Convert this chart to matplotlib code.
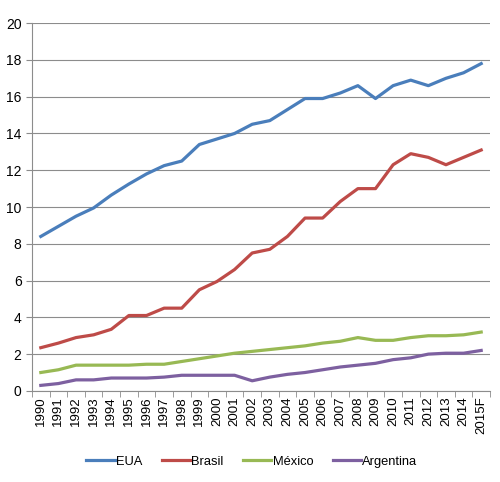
import matplotlib.pyplot as plt
import numpy as np

years = ['1990', '1991', '1992', '1993', '1994', '1995', '1996', '1997', '1998',
         '1999', '2000', '2001', '2002', '2003', '2004', '2005', '2006', '2007',
         '2008', '2009', '2010', '2011', '2012', '2013', '2014', '2015F']

eua = [8.4, 8.95, 9.5, 9.95, 10.65, 11.25, 11.8, 12.25, 12.5, 13.4, 13.7, 14.0, 14.5,
       14.7, 15.3, 15.9, 15.9, 16.2, 16.6, 15.9, 16.6, 16.9, 16.6, 17.0, 17.3, 17.8]
brasil = [2.35, 2.6, 2.9, 3.05, 3.35, 4.1, 4.1, 4.5, 4.5, 5.5, 5.95, 6.6, 7.5,
          7.7, 8.4, 9.4, 9.4, 10.3, 11.0, 11.0, 12.3, 12.9, 12.7, 12.3, 12.7, 13.1]
mexico = [1.0, 1.15, 1.4, 1.4, 1.4, 1.4, 1.45, 1.45, 1.6, 1.75, 1.9, 2.05, 2.15,
          2.25, 2.35, 2.45, 2.6, 2.7, 2.9, 2.75, 2.75, 2.9, 3.0, 3.0, 3.05, 3.2]
argentina = [0.3, 0.4, 0.6, 0.6, 0.7, 0.7, 0.7, 0.75, 0.85, 0.85, 0.85, 0.85, 0.55,
             0.75, 0.9, 1.0, 1.15, 1.3, 1.4, 1.5, 1.7, 1.8, 2.0, 2.05, 2.05, 2.2]

plt.rcParams['font.family'] = ['Liberation Sans', 'DejaVu Sans']

fig = plt.figure(figsize=(5, 4.82), dpi=100)
ax = fig.add_axes([0.064, 0.189, 0.916, 0.763])

x = np.arange(len(years))
ax.plot(x, eua, color='#4A7EBB', lw=2.3, label='EUA')
ax.plot(x, brasil, color='#BE4B48', lw=2.3, label='Brasil')
ax.plot(x, mexico, color='#98B954', lw=2.3, label='México')
ax.plot(x, argentina, color='#7D60A0', lw=2.3, label='Argentina')

ax.set_xlim(-0.5, len(years) - 0.5)
ax.set_ylim(0, 20)
ax.set_yticks(range(0, 21, 2))
ax.grid(axis='y', color='#8c8c8c', lw=0.8)
ax.set_axisbelow(True)

ax.set_xticks(x)
ax.set_xticklabels(years, rotation=90, fontsize=9.5)
ax.set_xticks(np.arange(-0.5, len(years)), minor=True)
ax.tick_params(axis='x', which='major', length=0, pad=4)
ax.tick_params(axis='x', which='minor', length=4, color='#8c8c8c')
ax.tick_params(axis='y', length=4, color='#8c8c8c', labelsize=10)

for s in ['top', 'right']:
    ax.spines[s].set_visible(False)
for s in ['left', 'bottom']:
    ax.spines[s].set_color('#8c8c8c')

ax.legend(loc='upper center', bbox_to_anchor=(0.48, -0.145), ncol=4, frameon=False,
          fontsize=9.3, handlelength=2.2, handletextpad=0.1, columnspacing=1.5)

fig.savefig('out.png', dpi=100)
